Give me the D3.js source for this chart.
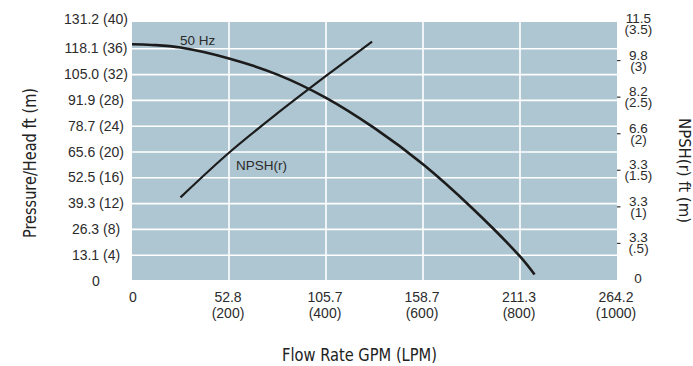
<!DOCTYPE html>
<html>
<head>
<meta charset="utf-8">
<script src="https://cdn.jsdelivr.net/npm/d3@7"></script>
<style>
  html, body { margin: 0; padding: 0; background: #fff; }
  svg { display: block; }
  .tick-text { font-family: "Liberation Sans", Arial, sans-serif; font-size: 14px; fill: #2b2b2b; }
  .rtick { font-size: 13.5px; }
  .title { font-family: "Liberation Sans Narrow", "DejaVu Sans Condensed", sans-serif; fill: #222; }
  .series-label { font-family: "Liberation Sans", Arial, sans-serif; font-size: 13.5px; fill: #2b2b2b; }
</style>
</head>
<body>
<svg id="chart" width="693" height="366"></svg>
<script>
// ---- data ----
const flowTicksLPM = [0, 200, 400, 600, 800, 1000];
const flowTickGPM = ["0", "52.8", "105.7", "158.7", "211.3", "264.2"];
const headTicksM = [0, 4, 8, 12, 16, 20, 24, 28, 32, 36, 40];
const headTickFt = ["0", "13.1", "26.3", "39.3", "52.5", "65.6", "78.7", "91.9", "105.0", "118.1", "131.2"];
const npshTicksM = [0, 0.5, 1, 1.5, 2, 2.5, 3, 3.5];
const npshTickFt = ["0", "3.3", "3.3", "3.3", "6.6", "8.2", "9.8", "11.5"];
const npshTickM = ["", "(.5)", "(1)", "(1.5)", "(2)", "(2.5)", "(3)", "(3.5)"];

// 50 Hz pump curve: flow (LPM) vs head (m)
const pumpFlow = [0, 40, 100, 200, 300, 400, 500, 600, 700, 800, 830];
const pumpHead = [36.7, 36.6, 36.2, 34.5, 32.0, 28.4, 23.7, 18.1, 11.4, 3.8, 1.0];
// NPSH(r): flow (LPM) vs NPSH (m)
const npshFlow = [100, 200, 300, 400, 495];
const npshVal = [1.13, 1.74, 2.28, 2.79, 3.26];

// ---- layout ----
const plotL = 132, plotR = 617, plotT = 22, plotB = 280;
const svg = d3.select("#chart");

const x = d3.scaleLinear().domain([0, 1000]).range([plotL, plotR]);
const yL = d3.scaleLinear().domain([0, 40]).range([281, 23]);
const yR = d3.scaleLinear().domain([0, 3.5]).range([280, 24]);

// background
svg.append("rect")
  .attr("x", plotL).attr("y", plotT)
  .attr("width", plotR - plotL).attr("height", plotB - plotT)
  .attr("fill", "#aec6d2");

// horizontal gridlines
svg.append("g").selectAll("line")
  .data(headTicksM.filter(d => d > 0 && d < 40))
  .join("line")
  .attr("x1", plotL).attr("x2", plotR)
  .attr("y1", d => yL(d)).attr("y2", d => yL(d))
  .attr("stroke", "#ffffff").attr("stroke-width", 1.6);

// vertical gridlines
svg.append("g").selectAll("line")
  .data(flowTicksLPM.filter(d => d > 0 && d < 1000))
  .join("line")
  .attr("x1", d => x(d)).attr("x2", d => x(d))
  .attr("y1", plotT).attr("y2", plotB)
  .attr("stroke", "#ffffff").attr("stroke-width", 1.6);

// left tick labels
svg.append("g").selectAll("text")
  .data(headTicksM)
  .join("text")
  .attr("class", "tick-text")
  .attr("x", 96)
  .attr("y", d => (d === 40 ? yL(d) - 4 : yL(d) - 0.5))
  .attr("dy", "0.36em")
  .attr("text-anchor", "middle")
  .text((d, i) => d === 0 ? "0" : `${headTickFt[i]} (${d})`);

// right ticks
const rg = svg.append("g");
rg.selectAll("line")
  .data(npshTicksM.filter(d => d > 0 && d < 3.5))
  .join("line")
  .attr("x1", plotR).attr("x2", plotR + 3.5)
  .attr("y1", d => yR(d)).attr("y2", d => yR(d))
  .attr("stroke", "#333").attr("stroke-width", 1.2);
npshTicksM.forEach((d, i) => {
  const t = rg.append("text").attr("class", "tick-text rtick").attr("text-anchor", "middle");
  if (d === 0) {
    t.attr("x", 638).attr("y", yR(d) - 2).attr("dy", "0.36em").text(npshTickFt[i]);
  } else {
    t.append("tspan").attr("x", 638.5).attr("y", yR(d) - 1).text(npshTickFt[i]);
    t.append("tspan").attr("x", 638.5).attr("y", yR(d) + 10).text(npshTickM[i]);
  }
});

// bottom tick labels
const bg = svg.append("g");
flowTicksLPM.forEach((d, i) => {
  const t = bg.append("text").attr("class", "tick-text").attr("text-anchor", "middle");
  if (d === 0) {
    t.attr("x", x(d) + 1).attr("y", 302).text(flowTickGPM[i]);
  } else {
    t.append("tspan").attr("x", x(d) - 1).attr("y", 302).text(flowTickGPM[i]);
    t.append("tspan").attr("x", x(d) - 1).attr("y", 318).text(`(${d})`);
  }
});

// curves
const pumpData = pumpFlow.map((f, i) => [f, pumpHead[i]]);
const npshData = npshFlow.map((f, i) => [f, npshVal[i]]);

svg.append("path")
  .datum(pumpData)
  .attr("fill", "none").attr("stroke", "#1c1c1c").attr("stroke-width", 2.6)
  .attr("d", d3.line().x(d => x(d[0])).y(d => yL(d[1])).curve(d3.curveCatmullRom.alpha(0.5)));

svg.append("path")
  .datum(npshData)
  .attr("fill", "none").attr("stroke", "#1c1c1c").attr("stroke-width", 2.2)
  .attr("d", d3.line().x(d => x(d[0])).y(d => yR(d[1])).curve(d3.curveCatmullRom.alpha(0.5)));

// series labels
svg.append("text").attr("class", "series-label").attr("x", 180).attr("y", 45).text("50 Hz");
svg.append("text").attr("class", "series-label").attr("x", 236).attr("y", 170).text("NPSH(r)");

// axis titles
svg.append("text").attr("class", "title")
  .attr("text-anchor", "middle")
  .style("font-size", "18px")
  .attr("textLength", 150).attr("lengthAdjust", "spacingAndGlyphs")
  .attr("transform", "translate(36,163) rotate(-90)")
  .text("Pressure/Head ft (m)");
svg.append("text").attr("class", "title")
  .attr("text-anchor", "middle")
  .style("font-size", "16px")
  .attr("textLength", 105).attr("lengthAdjust", "spacingAndGlyphs")
  .attr("transform", "translate(679,170.5) rotate(90)")
  .text("NPSH(r) ft (m)");
svg.append("text").attr("class", "title")
  .attr("text-anchor", "middle")
  .style("font-size", "17px")
  .attr("textLength", 155).attr("lengthAdjust", "spacingAndGlyphs")
  .attr("x", 359.5).attr("y", 361)
  .text("Flow Rate GPM (LPM)");
</script>
</body>
</html>
